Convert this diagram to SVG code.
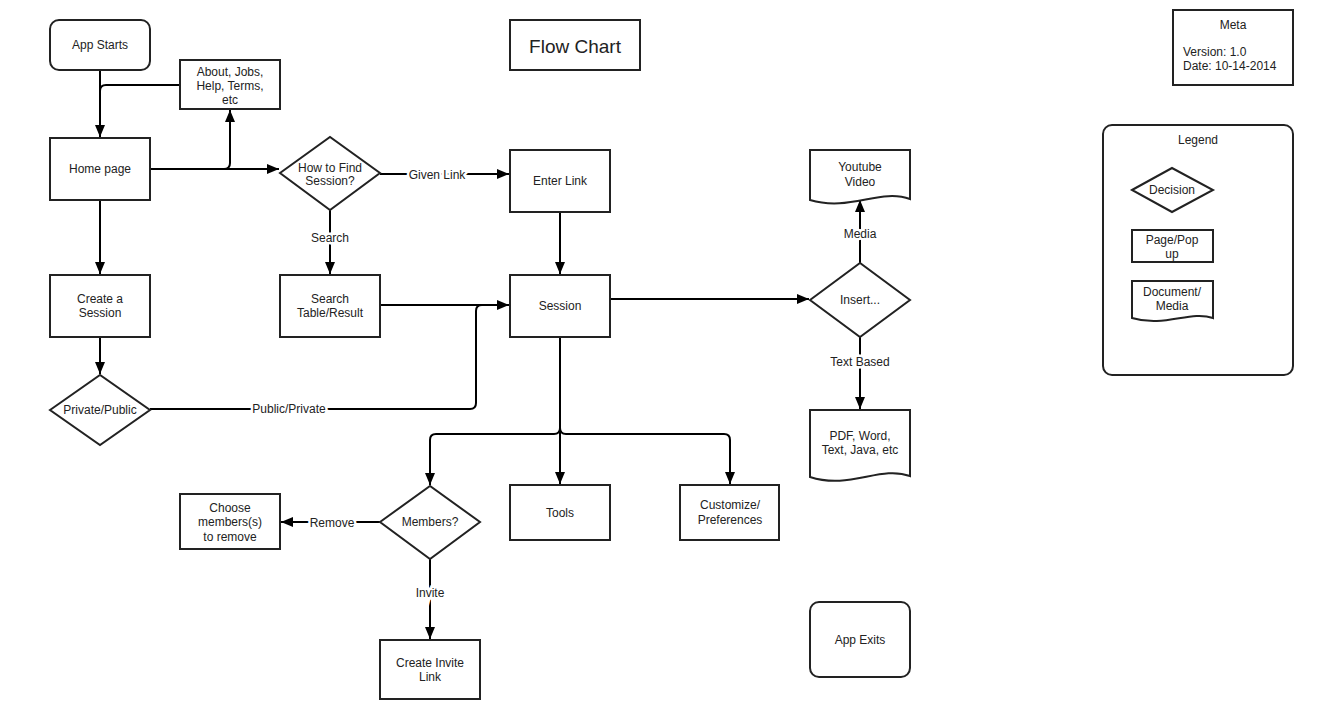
<svg xmlns="http://www.w3.org/2000/svg" width="1318" height="720" viewBox="0 0 1318 720">
<style>
.n{fill:#fff;stroke:#222;stroke-width:2}
.t{font-family:"Liberation Sans",Arial,sans-serif;font-size:12px;fill:#222;text-anchor:middle}
.c{fill:none;stroke:#000;stroke-width:2}
.l{font-family:"Liberation Sans",Arial,sans-serif;font-size:12px;fill:#222;text-anchor:middle;stroke:#fff;stroke-width:5;paint-order:stroke}
</style>
<defs>
<marker id="arr" viewBox="0 0 12 10" refX="12" refY="5" markerWidth="12" markerHeight="10" orient="auto" markerUnits="userSpaceOnUse"><path d="M0,0 L12,5 L0,10 z" fill="#000"/></marker>
</defs>
<rect width="1318" height="720" fill="#fff"/>

<g id="connectors">
<path class="c" d="M100,70 V137" marker-end="url(#arr)"/>
<path class="c" d="M180,85 H106 Q100,85 100,91"/>
<path class="c" d="M150,169 H279" marker-end="url(#arr)"/>
<path class="c" d="M150,169 H224 Q230,169 230,163 V110" marker-end="url(#arr)"/>
<path class="c" d="M380,174 H509" marker-end="url(#arr)"/>
<path class="c" d="M330,210 V274" marker-end="url(#arr)"/>
<path class="c" d="M560,212 V274" marker-end="url(#arr)"/>
<path class="c" d="M380,305 H509" marker-end="url(#arr)"/>
<path class="c" d="M150,409 H470 Q476,409 476,403 V311 Q476,305 482,305 H500"/>
<path class="c" d="M100,200 V274" marker-end="url(#arr)"/>
<path class="c" d="M100,337 V374" marker-end="url(#arr)"/>
<path class="c" d="M610,299 H809" marker-end="url(#arr)"/>
<path class="c" d="M860,263 V200" marker-end="url(#arr)"/>
<path class="c" d="M860,337 V409" marker-end="url(#arr)"/>
<path class="c" d="M560,337 V428 Q560,434 554,434 H436 Q430,434 430,440 V485" marker-end="url(#arr)"/>
<path class="c" d="M560,337 V484" marker-end="url(#arr)"/>
<path class="c" d="M560,428 Q560,434 566,434 H724 Q730,434 730,440 V484" marker-end="url(#arr)"/>
<path class="c" d="M380,522 H281" marker-end="url(#arr)"/>
<path class="c" d="M430,559 V639" marker-end="url(#arr)"/>
<text class="l" x="437" y="179">Given Link</text>
<text class="l" x="330" y="242">Search</text>
<text class="l" x="289" y="413">Public/Private</text>
<text class="l" x="860" y="238">Media</text>
<text class="l" x="860" y="366">Text Based</text>
<text class="l" x="332" y="527">Remove</text>
<text class="l" x="430" y="597">Invite</text>
</g>

<g id="title"><rect class="n" x="510" y="20" width="130" height="50"/><text class="t" x="575" y="53" style="font-size:19px">Flow Chart</text></g>

<g id="app-starts"><rect class="n" x="50" y="20" width="100" height="50" rx="9"/><text class="t" x="100" y="49">App Starts</text></g>
<g id="about"><rect class="n" x="180" y="60" width="100" height="49"/><text class="t" x="230" y="76">About, Jobs,</text><text class="t" x="230" y="90">Help, Terms,</text><text class="t" x="230" y="104">etc</text></g>
<g id="home"><rect class="n" x="50" y="138" width="100" height="62"/><text class="t" x="100" y="173">Home page</text></g>
<g id="how-find"><path class="n" d="M280,173 L330,137 L380,173 L330,210 Z"/><text class="t" x="330" y="172">How to Find</text><text class="t" x="330" y="185">Session?</text></g>
<g id="enter-link"><rect class="n" x="510" y="150" width="100" height="62"/><text class="t" x="560" y="185">Enter Link</text></g>
<g id="create-session"><rect class="n" x="50" y="275" width="100" height="62"/><text class="t" x="100" y="303">Create a</text><text class="t" x="100" y="317">Session</text></g>
<g id="search-table"><rect class="n" x="280" y="275" width="100" height="62"/><text class="t" x="330" y="303">Search</text><text class="t" x="330" y="317">Table/Result</text></g>
<g id="session"><rect class="n" x="510" y="275" width="100" height="62"/><text class="t" x="560" y="310">Session</text></g>
<g id="private-public"><path class="n" d="M50,410 L100,375 L150,410 L100,445 Z"/><text class="t" x="100" y="414">Private/Public</text></g>
<g id="insert"><path class="n" d="M810,300 L860,263 L910,300 L860,337 Z"/><text class="t" x="860" y="304">Insert...</text></g>
<g id="youtube"><path class="n" d="M810,150 H910 V199 C880,188 850,212 810,200 Z"/><text class="t" x="860" y="171">Youtube</text><text class="t" x="860" y="186">Video</text></g>
<g id="pdf"><path class="n" d="M810,410 H910 V476 C880,465 850,490 810,477 Z"/><text class="t" x="860" y="440">PDF, Word,</text><text class="t" x="860" y="454">Text, Java, etc</text></g>
<g id="members"><path class="n" d="M380,522 L430,486 L480,522 L430,559 Z"/><text class="t" x="430" y="526">Members?</text></g>
<g id="choose"><rect class="n" x="180" y="494" width="100" height="55"/><text class="t" x="230" y="512">Choose</text><text class="t" x="230" y="526">members(s)</text><text class="t" x="230" y="541">to remove</text></g>
<g id="tools"><rect class="n" x="510" y="485" width="100" height="55"/><text class="t" x="560" y="517">Tools</text></g>
<g id="customize"><rect class="n" x="680" y="485" width="99" height="55"/><text class="t" x="730" y="509">Customize/</text><text class="t" x="730" y="524">Preferences</text></g>
<g id="invite-link"><rect class="n" x="380" y="640" width="100" height="59"/><text class="t" x="430" y="667">Create Invite</text><text class="t" x="430" y="681">Link</text></g>
<g id="app-exits"><rect class="n" x="810" y="602" width="100" height="75" rx="9"/><text class="t" x="860" y="644">App Exits</text></g>

<g id="meta"><rect class="n" x="1173" y="10" width="120" height="75"/><text class="t" x="1233" y="29">Meta</text><text class="t" x="1183" y="56" style="text-anchor:start">Version: 1.0</text><text class="t" x="1183" y="70" style="text-anchor:start">Date: 10-14-2014</text></g>
<g id="legend"><rect class="n" x="1103" y="125" width="190" height="250" rx="9"/><text class="t" x="1198" y="144">Legend</text>
<path class="n" d="M1132,190 L1172,168 L1213,190 L1172,212 Z"/><text class="t" x="1172" y="194">Decision</text>
<rect class="n" x="1132" y="230" width="81" height="32"/><text class="t" x="1172" y="244">Page/Pop</text><text class="t" x="1172" y="258">up</text>
<path class="n" d="M1132,281 H1213 V318 C1190,310 1165,328 1132,318 Z"/><text class="t" x="1172" y="296">Document/</text><text class="t" x="1172" y="310">Media</text></g>
</svg>
